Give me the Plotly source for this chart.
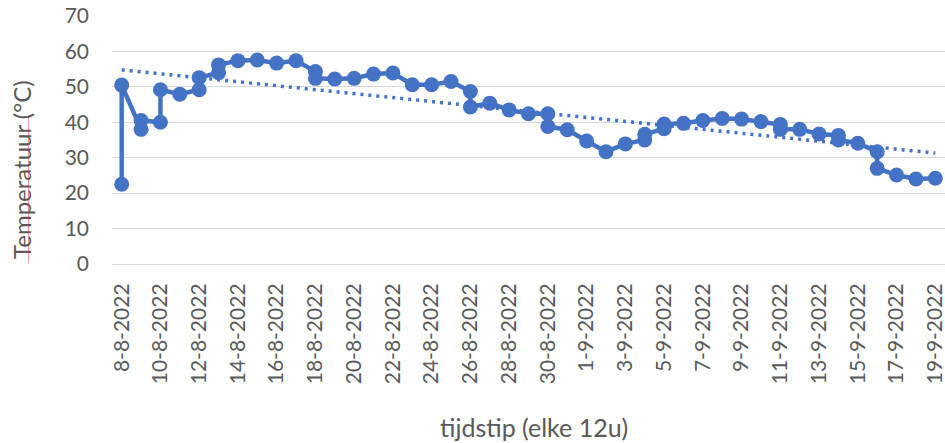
import plotly.graph_objects as go

# Readings every 12 h; both readings of one day share the same date on the axis
dates = [
    "2022-08-08", "2022-08-08",
    "2022-08-09", "2022-08-09",
    "2022-08-10", "2022-08-10",
    "2022-08-11",
    "2022-08-12", "2022-08-12",
    "2022-08-13", "2022-08-13",
    "2022-08-14", "2022-08-15", "2022-08-16", "2022-08-17",
    "2022-08-18", "2022-08-18",
    "2022-08-19", "2022-08-20", "2022-08-21", "2022-08-22",
    "2022-08-23", "2022-08-24", "2022-08-25",
    "2022-08-26", "2022-08-26",
    "2022-08-27", "2022-08-28", "2022-08-29",
    "2022-08-30", "2022-08-30",
    "2022-08-31", "2022-09-01", "2022-09-02", "2022-09-03",
    "2022-09-04", "2022-09-04",
    "2022-09-05", "2022-09-05",
    "2022-09-06", "2022-09-07", "2022-09-08", "2022-09-09", "2022-09-10",
    "2022-09-11", "2022-09-11",
    "2022-09-12", "2022-09-13",
    "2022-09-14", "2022-09-14",
    "2022-09-15",
    "2022-09-16", "2022-09-16",
    "2022-09-17", "2022-09-18", "2022-09-19",
]
temperatures = [
    22.5, 50.5,
    38.0, 40.5,
    40.0, 49.2,
    47.9,
    49.2, 52.6,
    54.0, 56.2,
    57.4, 57.6, 56.7, 57.4,
    54.3, 52.4,
    52.2, 52.4, 53.6, 53.9,
    50.6, 50.6, 51.5,
    48.7, 44.3,
    45.4, 43.5, 42.4,
    42.4, 38.8,
    37.9, 34.7, 31.7, 33.9,
    35.0, 36.6,
    38.2, 39.5,
    39.7, 40.5, 41.1, 40.9, 40.2,
    39.4, 38.0,
    38.0, 36.7,
    36.3, 35.0,
    34.1,
    31.7, 27.0,
    25.1, 24.0, 24.2,
]
# Linear trendline as shown in the chart (start / end values)
trend_dates = ["2022-08-08", "2022-09-19"]
trend_values = [54.8, 31.3]

y_ticks = [0, 10, 20, 30, 40, 50, 60, 70]

x_title = "tijdstip (elke 12u)"
y_title = "Temperatuur (°C)"

blue = "#4472C4"
grey_text = "#595959"
font_family = "Lato, 'Open Sans', sans-serif"

fig = go.Figure()
fig.add_trace(go.Scatter(
    x=trend_dates, y=trend_values, mode="lines",
    line=dict(color=blue, width=3.5, dash="3px,5px"),
    hoverinfo="skip", showlegend=False,
))
fig.add_trace(go.Scatter(
    x=dates, y=temperatures, mode="lines+markers",
    line=dict(color=blue, width=4.5),
    marker=dict(color=blue, size=15),
    showlegend=False, cliponaxis=False,
))

fig.update_layout(
    width=945, height=443,
    margin=dict(l=112, r=0, t=16, b=179),
    paper_bgcolor="white", plot_bgcolor="white",
    font=dict(family=font_family, color=grey_text, size=21),
    xaxis=dict(
        type="date", automargin=False,
        range=["2022-08-07 12:00", "2022-09-19 12:00"],
        tick0="2022-08-08", dtick=2 * 86400000,
        tickformat="%-d-%-m-%Y", tickangle=-90,
        showgrid=False, showline=True, linecolor="#d9d9d9", linewidth=1,
        zeroline=False, ticks="",
        tickfont=dict(size=21, color=grey_text, family=font_family),
        ticklabelstandoff=10, ticklabeloverflow="allow",
    ),
    yaxis=dict(
        automargin=False,
        range=[0, 70], tickvals=y_ticks,
        showgrid=True, gridcolor="#d9d9d9", gridwidth=1,
        zeroline=False, showline=False, ticks="",
        tickfont=dict(size=21, color=grey_text, family=font_family),
        ticklabelstandoff=22,
    ),
    annotations=[
        dict(text=x_title, xref="paper", yref="paper",
             x=(534 - 112) / 833, y=-(427 - 264) / 248,
             xanchor="center", yanchor="middle", showarrow=False,
             font=dict(size=25, color=grey_text, family=font_family)),
        dict(text=y_title, xref="paper", yref="paper",
             x=-(112 - 21) / 833, y=(264 - 170) / 248, textangle=-90,
             xanchor="center", yanchor="middle", showarrow=False,
             font=dict(size=24, color=grey_text, family=font_family)),
    ],
    shapes=[
        dict(type="line", xref="paper", yref="paper",
             x0=-(112 - 28.5) / 833, x1=-(112 - 28.5) / 833,
             y0=(264 - 263) / 248, y1=(264 - 115) / 248,
             line=dict(color="#ff9a9a", width=1)),
    ],
)

fig.write_html(
    "out.html",
    config={"displayModeBar": False},
    post_script="document.body.style.margin='0';document.body.style.overflow='hidden';",
)
